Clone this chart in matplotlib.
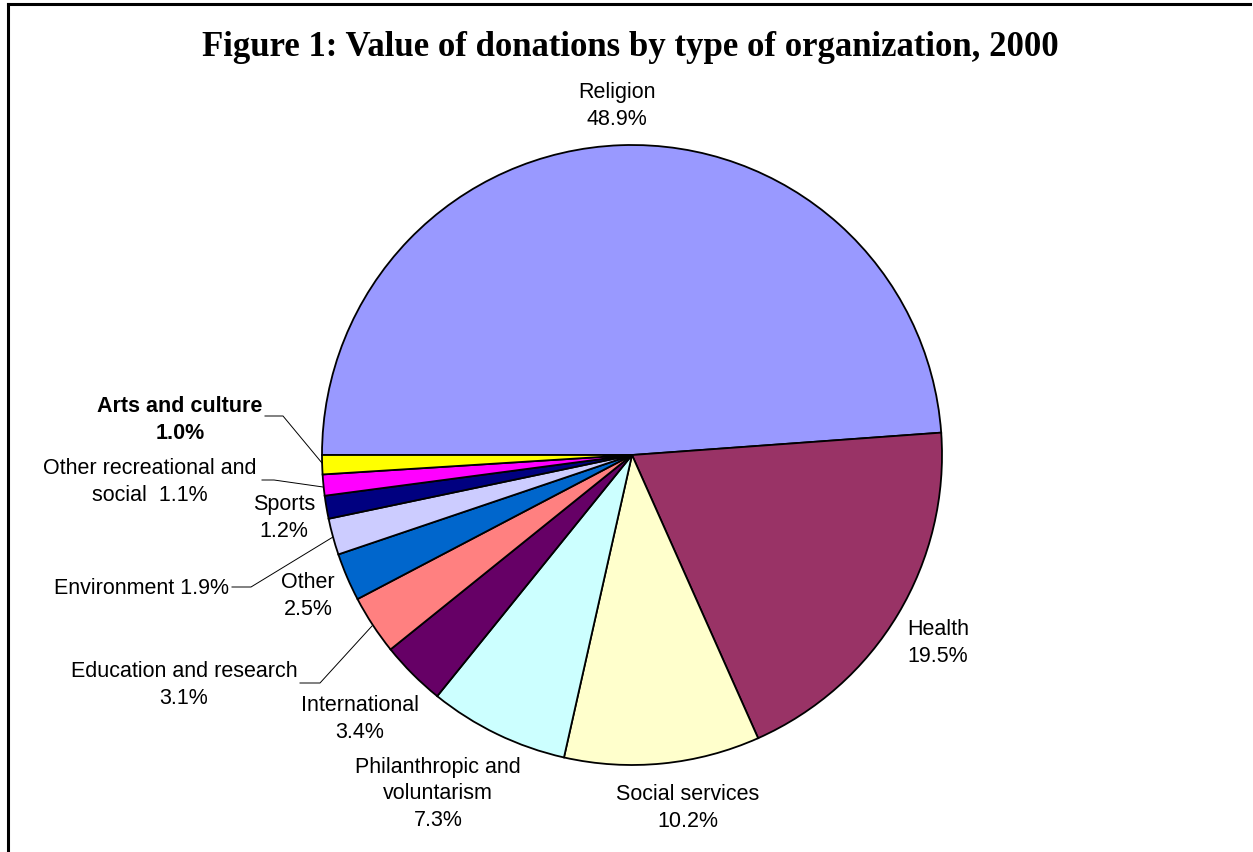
import matplotlib
matplotlib.use("Agg")
import matplotlib.pyplot as plt
from matplotlib.lines import Line2D

# ---- data ----
categories = ["Religion", "Health", "Social services", "Philanthropic and voluntarism",
              "International", "Education and research", "Other", "Environment",
              "Sports", "Other recreational and social", "Arts and culture"]
values = [48.9, 19.5, 10.2, 7.3, 3.4, 3.1, 2.5, 1.9, 1.2, 1.1, 1.0]
colors = ["#9999FF", "#993366", "#FFFFCC", "#CCFFFF", "#660066", "#FF8080",
          "#0066CC", "#CCCCFF", "#000080", "#FF00FF", "#FFFF00"]
label_texts = ["Religion\n48.9%", "Health\n19.5%", "Social services\n10.2%",
               "Philanthropic and\nvoluntarism\n7.3%", "International\n3.4%",
               "Education and research\n3.1%", "Other\n2.5%", "Environment 1.9%",
               "Sports\n1.2%", "Other recreational and\nsocial  1.1%", "Arts and culture\n1.0%"]
title = "Figure 1: Value of donations by type of organization, 2000"

W, H = 1253, 853
fig = plt.figure(figsize=(W / 100, H / 100), dpi=100)
ax = fig.add_axes([0, 0, 1, 1])
ax.set_xlim(0, W)
ax.set_ylim(H, 0)
ax.axis("off")

# pie drawn in a separate axes with normal orientation
cx, cy, R = 632, 456, 310
pax = fig.add_axes([(cx - R) / W, 1 - (cy + R) / H, 2 * R / W, 2 * R / H])
pax.pie(values, colors=colors, startangle=180, counterclock=False,
        wedgeprops=dict(edgecolor="black", linewidth=1.3), radius=1.0)
pax.set_xlim(-1, 1)
pax.set_ylim(-1, 1)
pax.set_aspect("auto")
pax.axis("off")

font = "Liberation Sans"
fs = 15.5
# label positions (pixel coords, centre of text block)
pos = {
    "Religion": (617, 106),
    "Health": (938, 643),
    "Social services": (688, 808),
    "Philanthropic and voluntarism": (438, 794),
    "International": (360, 719),
    "Education and research": (184, 685),
    "Other": (308, 596),
    "Environment": (141, 588),
    "Sports": (284, 518),
    "Other recreational and social": (150, 482),
    "Arts and culture": (180, 420),
}
for cat, txt in zip(categories, label_texts):
    x, y = pos[cat]
    ax.text(x, y, txt, ha="center", va="center", multialignment="center",
            fontsize=fs, family=font, linespacing=1.36,
            fontweight="bold" if cat == "Arts and culture" else "normal")

# leader lines
leaders = [
    [(300, 684), (320, 684), (372, 627)],
    [(232, 588), (251, 588), (333, 538)],
    [(262, 481), (274, 481), (323, 488)],
    [(265, 417), (283, 417), (322, 464)],
]
for pts in leaders:
    xs, ys = zip(*pts)
    ax.plot(xs, ys, color="black", linewidth=0.7)

ax.text(630, 47, title, ha="center", va="center", fontsize=25,
        family="Liberation Serif", fontweight="bold")

# frame
ax.add_line(Line2D([8, W - 3], [5, 5], color="black", linewidth=2.2))
ax.add_line(Line2D([8, 8], [5, H], color="black", linewidth=2.2))

fig.savefig("out.png", dpi=100)
